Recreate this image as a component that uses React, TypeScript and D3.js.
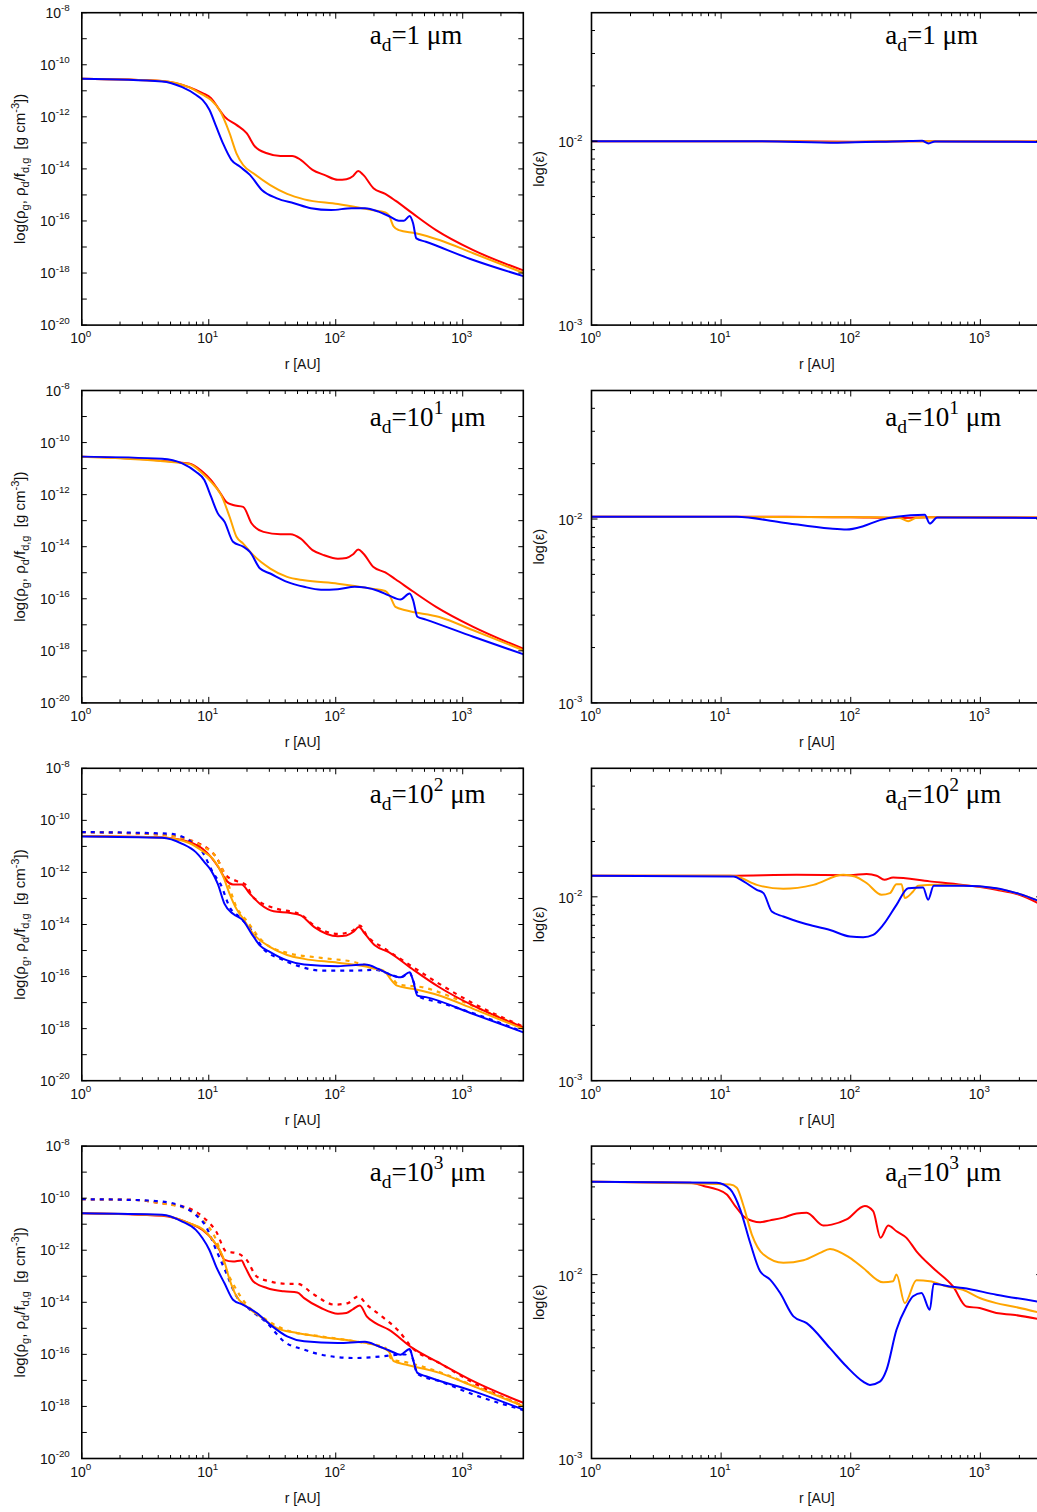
import React from "react";
import * as d3 from "d3";

type P = [number, number]; // [log10 r (AU), log10 value]

// ---------- left column: log10 density, solid = gas / dust, dotted = second model ----------
const rho1Red: P[] = [[0,-10.54],[0.632,-10.62],[0.845,-10.86],[0.951,-11.09],[1.018,-11.28],[1.084,-11.73],[1.124,-11.99],[1.218,-12.31],[1.298,-12.63],[1.364,-13.14],[1.458,-13.40],[1.564,-13.5],[1.657,-13.5],[1.724,-13.65],[1.817,-14.04],[1.910,-14.23],[2.017,-14.42],[2.084,-14.40],[2.137,-14.27],[2.177,-14.08],[2.217,-14.23],[2.297,-14.74],[2.390,-14.96],[2.470,-15.22],[2.603,-15.70],[2.790,-16.35],[3.083,-17.12],[3.477,-17.9]];
const rho1Orange: P[] = [[0,-10.54],[0.632,-10.62],[0.845,-10.87],[0.951,-11.15],[1.018,-11.35],[1.084,-11.73],[1.164,-12.63],[1.218,-13.4],[1.271,-13.85],[1.351,-14.17],[1.484,-14.62],[1.617,-14.96],[1.751,-15.17],[2.017,-15.35],[2.284,-15.58],[2.390,-15.67],[2.417,-15.77],[2.457,-16.22],[2.497,-16.35],[2.630,-16.47],[2.816,-16.73],[3.083,-17.24],[3.477,-17.99]];
const rho1Blue: P[] = [[0,-10.54],[0.632,-10.64],[0.791,-10.86],[0.898,-11.15],[0.951,-11.35],[1.005,-11.73],[1.058,-12.37],[1.111,-13.01],[1.178,-13.65],[1.244,-13.91],[1.324,-14.23],[1.418,-14.81],[1.537,-15.13],[1.671,-15.32],[1.804,-15.51],[1.964,-15.58],[2.124,-15.51],[2.230,-15.51],[2.337,-15.64],[2.417,-15.81],[2.497,-15.99],[2.537,-15.99],[2.582,-15.81],[2.609,-16.09],[2.635,-16.67],[2.710,-16.80],[3.083,-17.5],[3.477,-18.12]];

const rho2Red: P[] = [[0,-10.54],[0.845,-10.80],[0.951,-11.12],[1.018,-11.44],[1.084,-11.89],[1.138,-12.28],[1.191,-12.40],[1.271,-12.47],[1.338,-13.11],[1.431,-13.43],[1.564,-13.52],[1.644,-13.52],[1.724,-13.69],[1.817,-14.13],[1.910,-14.33],[2.017,-14.46],[2.084,-14.43],[2.137,-14.29],[2.177,-14.11],[2.217,-14.26],[2.297,-14.78],[2.390,-14.99],[2.470,-15.25],[2.603,-15.70],[2.790,-16.31],[3.083,-17.08],[3.477,-17.92]];
const rho2Orange: P[] = [[0,-10.54],[0.845,-10.82],[0.951,-11.19],[1.018,-11.51],[1.098,-12.02],[1.164,-12.85],[1.218,-13.62],[1.271,-13.88],[1.351,-14.33],[1.484,-14.84],[1.617,-15.16],[1.751,-15.29],[2.017,-15.42],[2.284,-15.61],[2.390,-15.70],[2.430,-15.93],[2.470,-16.31],[2.550,-16.44],[2.816,-16.70],[3.083,-17.21],[3.477,-17.98]];
const rho2Blue: P[] = [[0,-10.54],[0.632,-10.62],[0.791,-10.80],[0.898,-11.12],[0.965,-11.44],[1.018,-12.08],[1.071,-12.72],[1.124,-13.04],[1.191,-13.81],[1.271,-14.0],[1.324,-14.20],[1.404,-14.84],[1.484,-15.03],[1.617,-15.35],[1.751,-15.54],[1.884,-15.65],[2.017,-15.63],[2.150,-15.54],[2.230,-15.57],[2.337,-15.70],[2.417,-15.87],[2.510,-16.03],[2.582,-15.80],[2.609,-16.05],[2.643,-16.69],[2.710,-16.80],[3.083,-17.46],[3.477,-18.13]];

const rho3Red: P[] = [[0,-10.6],[0.632,-10.66],[0.845,-10.83],[0.951,-11.09],[1.018,-11.41],[1.084,-11.86],[1.138,-12.31],[1.191,-12.46],[1.258,-12.46],[1.324,-12.82],[1.404,-13.21],[1.511,-13.49],[1.644,-13.56],[1.724,-13.65],[1.831,-14.10],[2.017,-14.45],[2.084,-14.42],[2.137,-14.29],[2.182,-14.10],[2.230,-14.36],[2.310,-14.81],[2.417,-15.06],[2.603,-15.71],[2.816,-16.41],[3.083,-17.12],[3.477,-17.95]];
const rho3Orange: P[] = [[0,-10.6],[0.632,-10.66],[0.845,-10.87],[0.951,-11.18],[1.031,-11.47],[1.111,-12.12],[1.164,-12.82],[1.218,-13.40],[1.271,-13.78],[1.351,-14.36],[1.484,-14.87],[1.617,-15.17],[1.751,-15.32],[2.017,-15.47],[2.284,-15.67],[2.390,-15.83],[2.430,-16.09],[2.483,-16.35],[2.603,-16.47],[2.816,-16.73],[3.083,-17.24],[3.477,-18.01]];
const rho3Blue: P[] = [[0,-10.62],[0.632,-10.67],[0.791,-10.90],[0.898,-11.22],[0.965,-11.60],[1.018,-11.92],[1.071,-12.44],[1.124,-13.21],[1.191,-13.59],[1.271,-13.85],[1.338,-14.36],[1.404,-14.81],[1.484,-15.06],[1.617,-15.38],[1.751,-15.54],[2.017,-15.60],[2.230,-15.54],[2.337,-15.71],[2.417,-15.90],[2.510,-16.03],[2.582,-15.83],[2.609,-16.15],[2.643,-16.73],[2.710,-16.79],[3.083,-17.44],[3.477,-18.14]];
const rho3RedDot: P[] = [[0,-10.45],[0.632,-10.55],[0.951,-10.96],[1.058,-11.41],[1.138,-12.12],[1.218,-12.33],[1.298,-12.5],[1.338,-12.88],[1.404,-13.14],[1.537,-13.40],[1.671,-13.53],[1.724,-13.62],[1.831,-14.04],[2.017,-14.36],[2.124,-14.26],[2.190,-14.04],[2.244,-14.42],[2.390,-14.94],[2.550,-15.45],[2.816,-16.28],[3.083,-17.03],[3.477,-17.92]];
const rho3OrangeDot: P[] = [[0,-10.45],[0.632,-10.55],[0.951,-11.0],[1.058,-11.41],[1.138,-12.24],[1.218,-13.33],[1.298,-13.85],[1.431,-14.68],[1.617,-15.09],[1.884,-15.28],[2.150,-15.45],[2.284,-15.64],[2.417,-15.90],[2.497,-16.31],[2.683,-16.41],[2.950,-16.86],[3.216,-17.41],[3.477,-17.95]];
const rho3BlueDot: P[] = [[0,-10.45],[0.685,-10.51],[0.845,-10.77],[0.951,-11.22],[1.031,-11.99],[1.098,-12.50],[1.164,-13.33],[1.244,-13.72],[1.338,-14.23],[1.431,-14.94],[1.564,-15.32],[1.697,-15.58],[1.884,-15.77],[2.150,-15.77],[2.310,-15.74],[2.417,-15.90],[2.510,-16.03],[2.582,-15.85],[2.609,-16.15],[2.657,-16.77],[2.816,-16.99],[3.083,-17.41],[3.477,-18.12]];

const rho4Red: P[] = [[0,-10.58],[0.632,-10.68],[0.845,-10.96],[0.951,-11.22],[1.031,-11.60],[1.084,-11.99],[1.124,-12.37],[1.191,-12.43],[1.258,-12.39],[1.284,-12.62],[1.351,-13.20],[1.458,-13.45],[1.591,-13.58],[1.697,-13.62],[1.751,-13.84],[1.884,-14.22],[2.017,-14.44],[2.084,-14.41],[2.137,-14.26],[2.190,-14.12],[2.244,-14.54],[2.310,-14.79],[2.417,-15.05],[2.603,-15.75],[2.816,-16.33],[3.083,-17.03],[3.477,-17.86]];
const rho4Orange: P[] = [[0,-10.58],[0.632,-10.66],[0.845,-10.96],[0.951,-11.19],[1.031,-11.60],[1.111,-12.24],[1.164,-13.13],[1.218,-13.77],[1.298,-14.16],[1.404,-14.54],[1.537,-14.99],[1.697,-15.18],[1.884,-15.33],[2.150,-15.50],[2.337,-15.69],[2.417,-15.88],[2.457,-16.26],[2.550,-16.39],[2.816,-16.71],[3.083,-17.22],[3.477,-17.99]];
const rho4Blue: P[] = [[0,-10.58],[0.632,-10.64],[0.791,-10.90],[0.898,-11.22],[0.951,-11.54],[1.005,-11.99],[1.058,-12.63],[1.124,-13.27],[1.191,-13.90],[1.271,-14.10],[1.378,-14.41],[1.484,-14.86],[1.617,-15.31],[1.751,-15.50],[2.017,-15.56],[2.230,-15.52],[2.337,-15.69],[2.417,-15.84],[2.510,-16.01],[2.582,-15.79],[2.609,-16.20],[2.643,-16.71],[2.710,-16.84],[3.083,-17.41],[3.477,-18.12]];
const rho4RedDot: P[] = [[0,-10.04],[0.418,-10.07],[0.632,-10.20],[0.845,-10.39],[0.951,-10.71],[1.058,-11.28],[1.138,-12.05],[1.218,-12.11],[1.298,-12.37],[1.378,-13.01],[1.484,-13.20],[1.617,-13.29],[1.697,-13.29],[1.831,-13.71],[1.990,-14.09],[2.097,-14.03],[2.177,-13.77],[2.244,-14.09],[2.363,-14.54],[2.497,-15.11],[2.603,-15.75],[2.816,-16.33],[3.083,-17.09],[3.477,-17.99]];
const rho4OrangeDot: P[] = [[0,-10.04],[0.418,-10.07],[0.632,-10.20],[0.845,-10.45],[0.951,-10.84],[1.058,-11.60],[1.138,-12.75],[1.218,-13.52],[1.298,-14.09],[1.431,-14.60],[1.617,-15.08],[1.884,-15.31],[2.150,-15.50],[2.390,-15.75],[2.443,-16.20],[2.550,-16.30],[2.816,-16.68],[3.083,-17.20],[3.477,-17.96]];
const rho4BlueDot: P[] = [[0,-10.04],[0.418,-10.07],[0.632,-10.13],[0.791,-10.32],[0.898,-10.64],[0.978,-11.09],[1.058,-11.99],[1.138,-12.88],[1.218,-13.77],[1.324,-14.28],[1.458,-14.79],[1.591,-15.50],[1.751,-15.82],[1.884,-16.01],[2.150,-16.14],[2.417,-16.05],[2.497,-16.01],[2.550,-16.0],[2.582,-15.82],[2.609,-16.2],[2.643,-16.75],[2.816,-17.03],[3.083,-17.54],[3.477,-18.14]];

// ---------- right column: log10 epsilon ----------
const eps1Red: P[] = [[0,-2.0],[1.5,-2.0],[2.0,-2.003],[2.5,-2.0],[3.477,-2.002]];
const eps1Orange: P[] = [[0,-2.0],[1.5,-2.0],[1.9,-2.006],[2.3,-2.0],[3.477,-2.002]];
const eps1Blue: P[] = [[0,-2.0],[1.3,-2.0],[1.9,-2.008],[2.4,-2.0],[2.55,-1.998],[2.6,-2.012],[2.65,-2.001],[3.477,-2.004]];

const eps2Red: P[] = [[0,-1.988],[1.5,-1.988],[2.0,-1.991],[2.4,-1.994],[2.6,-1.99],[3.477,-1.992]];
const eps2Orange: P[] = [[0,-1.988],[2.2,-1.99],[2.38,-1.995],[2.443,-2.012],[2.5,-1.995],[2.6,-1.99],[3.477,-1.992]];
const eps2Blue: P[] = [[0,-1.988],[1.12,-1.988],[1.455,-2.017],[1.84,-2.052],[1.968,-2.057],[2.096,-2.039],[2.225,-2.006],[2.353,-1.988],[2.571,-1.977],[2.61,-2.025],[2.666,-1.992],[3.477,-1.994]];

const eps3Red: P[] = [[0,-1.885],[1.07,-1.885],[1.583,-1.88],[1.994,-1.882],[2.122,-1.876],[2.2,-1.885],[2.26,-1.907],[2.327,-1.895],[2.61,-1.916],[2.866,-1.935],[3.123,-1.962],[3.30,-1.989],[3.477,-2.045]];
const eps3Orange: P[] = [[0,-1.885],[1.07,-1.885],[1.121,-1.889],[1.275,-1.935],[1.48,-1.956],[1.712,-1.935],[1.943,-1.88],[2.032,-1.889],[2.122,-1.925],[2.238,-1.989],[2.302,-1.98],[2.353,-1.931],[2.392,-1.931],[2.417,-2.007],[2.481,-1.971],[2.52,-1.94],[2.661,-1.935],[2.866,-1.938],[3.123,-1.955],[3.30,-1.985],[3.477,-2.03]];
const eps3Blue: P[] = [[0,-1.885],[1.096,-1.889],[1.173,-1.916],[1.275,-1.962],[1.327,-1.98],[1.391,-2.08],[1.48,-2.107],[1.635,-2.144],[1.84,-2.18],[1.994,-2.216],[2.096,-2.22],[2.173,-2.207],[2.25,-2.153],[2.353,-2.044],[2.443,-1.953],[2.558,-1.949],[2.597,-2.016],[2.64,-1.94],[2.866,-1.94],[3.123,-1.953],[3.30,-1.984],[3.477,-2.03]];

const eps4Red: P[] = [[0,-1.495],[0.762,-1.50],[0.865,-1.518],[0.967,-1.536],[1.044,-1.564],[1.109,-1.627],[1.186,-1.69],[1.301,-1.715],[1.378,-1.705],[1.48,-1.69],[1.583,-1.667],[1.66,-1.664],[1.789,-1.733],[1.853,-1.728],[1.968,-1.70],[2.109,-1.627],[2.173,-1.655],[2.23,-1.80],[2.289,-1.733],[2.353,-1.764],[2.43,-1.80],[2.507,-1.873],[2.635,-1.964],[2.789,-2.064],[2.892,-2.173],[2.995,-2.182],[3.123,-2.209],[3.251,-2.218],[3.477,-2.245]];
const eps4Orange: P[] = [[0,-1.495],[1.07,-1.51],[1.121,-1.527],[1.173,-1.627],[1.237,-1.782],[1.327,-1.891],[1.48,-1.936],[1.635,-1.922],[1.763,-1.882],[1.84,-1.86],[1.994,-1.909],[2.096,-1.964],[2.25,-2.042],[2.327,-2.036],[2.353,-2.0],[2.417,-2.155],[2.507,-2.031],[2.61,-2.036],[2.738,-2.064],[2.866,-2.082],[2.995,-2.127],[3.123,-2.155],[3.251,-2.173],[3.477,-2.21]];
const eps4Blue: P[] = [[0,-1.495],[0.967,-1.50],[1.07,-1.536],[1.147,-1.645],[1.224,-1.827],[1.301,-1.982],[1.378,-2.027],[1.455,-2.1],[1.558,-2.227],[1.66,-2.264],[1.84,-2.4],[1.968,-2.5],[2.096,-2.582],[2.148,-2.6],[2.225,-2.582],[2.276,-2.518],[2.353,-2.3],[2.43,-2.173],[2.481,-2.118],[2.546,-2.1],[2.61,-2.191],[2.64,-2.049],[2.764,-2.064],[2.866,-2.073],[3.123,-2.109],[3.477,-2.15]];

// ---------- labels / axis values ----------
const grainExponents = ["", "1", "2", "3"]; // a_d = 1, 10^1, 10^2, 10^3 μm
const xDomain = [1, 3000];
const xMajor = [1, 10, 100, 1000];
const rhoDomain = [1e-20, 1e-8];
const rhoTickExps = [-20, -19, -18, -17, -16, -15, -14, -13, -12, -11, -10, -9, -8];
const rhoLabelExps = [-20, -18, -16, -14, -12, -10, -8];
const epsDomain = [1e-3, 0.05];
const epsMajorExps = [-3, -2];
const seriesColors = ["#ff0000", "#ffa500", "#0000ff"];

const rows = [
  { rho: [rho1Red, rho1Orange, rho1Blue], dots: null as P[][] | null, eps: [eps1Red, eps1Orange, eps1Blue] },
  { rho: [rho2Red, rho2Orange, rho2Blue], dots: null as P[][] | null, eps: [eps2Red, eps2Orange, eps2Blue] },
  { rho: [rho3Red, rho3Orange, rho3Blue], dots: [rho3RedDot, rho3OrangeDot, rho3BlueDot], eps: [eps3Red, eps3Orange, eps3Blue] },
  { rho: [rho4Red, rho4Orange, rho4Blue], dots: [rho4RedDot, rho4OrangeDot, rho4BlueDot], eps: [eps4Red, eps4Orange, eps4Blue] },
];

// ---------- layout ----------
const W = 1037, H = 1512;
const ROW0 = 12.7, ROW_STEP = 377.8, PH = 312.4;
const LX0 = 81.8, LX1 = 523.3;
const RX0 = 591.5, RX1 = 1042.2;
const SANS = "'Liberation Sans', Arial, Helvetica, sans-serif";
const SERIF = "'Liberation Serif', 'Times New Roman', Times, serif";

function xMinors(): number[] {
  const out: number[] = [];
  for (let k = 0; k < 4; k++) for (let m = 2; m <= 9; m++) {
    const v = m * Math.pow(10, k);
    if (v < xDomain[1]) out.push(v);
  }
  return out;
}

function Pow10Label({ x, y, exp, anchor }: { x: number; y: number; exp: string; anchor: string }) {
  return (
    <text x={x} y={y} textAnchor={anchor as any} fontFamily={SANS} fontSize={14} fill="#111">
      <tspan>10</tspan>
      <tspan fontSize={9.8} dy={-6.5}>{exp}</tspan>
    </text>
  );
}

function Panel({ idx, side, row, exp }: { idx: number; side: "L" | "R"; row: typeof rows[number]; exp: string }) {
  const top = ROW0 + idx * ROW_STEP;
  const bottom = top + PH;
  const x0 = side === "L" ? LX0 : RX0;
  const x1 = side === "L" ? LX1 : RX1;
  const x = d3.scaleLog().domain(xDomain).range([x0, x1]);
  const y = d3.scaleLog().domain(side === "L" ? rhoDomain : epsDomain).range([bottom, top]);
  const line = d3.line<P>()
    .x((d) => x(Math.pow(10, d[0])))
    .y((d) => y(Math.pow(10, d[1])))
    .curve(d3.curveMonotoneX);
  const clipId = `clip-${side}-${idx}`;
  const solid = side === "L" ? row.rho : row.eps;
  const dots = side === "L" ? row.dots : null;

  const ticks: JSX.Element[] = [];
  const maj = 6, min = 3.5;
  xMajor.forEach((v, i) => {
    const px = x(v);
    ticks.push(<line key={`xb${i}`} x1={px} x2={px} y1={bottom} y2={bottom - maj} />);
    ticks.push(<line key={`xt${i}`} x1={px} x2={px} y1={top} y2={top + maj} />);
  });
  xMinors().forEach((v, i) => {
    const px = x(v);
    ticks.push(<line key={`xmb${i}`} x1={px} x2={px} y1={bottom} y2={bottom - min} />);
    ticks.push(<line key={`xmt${i}`} x1={px} x2={px} y1={top} y2={top + min} />);
  });
  if (side === "L") {
    rhoTickExps.forEach((e, i) => {
      const py = y(Math.pow(10, e));
      const len = 5;
      ticks.push(<line key={`yl${i}`} x1={x0} x2={x0 + len} y1={py} y2={py} />);
      ticks.push(<line key={`yr${i}`} x1={x1} x2={x1 - len} y1={py} y2={py} />);
    });
  } else {
    const vals: [number, number][] = [];
    epsMajorExps.forEach((e) => vals.push([Math.pow(10, e), maj]));
    for (let m = 2; m <= 9; m++) vals.push([m * 1e-3, min]);
    for (let m = 2; m <= 4; m++) vals.push([m * 1e-2, min]);
    vals.forEach(([v, len], i) => {
      const py = y(v);
      ticks.push(<line key={`yl${i}`} x1={x0} x2={x0 + len} y1={py} y2={py} />);
      ticks.push(<line key={`yr${i}`} x1={x1} x2={x1 - len} y1={py} y2={py} />);
    });
  }

  const annX = x0 + 0.652 * (x1 - x0);
  const annY = top + (exp ? 35 : 31);

  return (
    <g>
      <defs>
        <clipPath id={clipId}>
          <rect x={x0} y={top} width={x1 - x0} height={bottom - top} />
        </clipPath>
      </defs>
      <g clipPath={`url(#${clipId})`} fill="none">
        {dots && dots.map((s, i) => (
          <path key={`d${i}`} d={line(s) || ""} stroke={seriesColors[i]} strokeWidth={2.2} strokeDasharray="4,5" />
        ))}
        {solid.map((s, i) => (
          <path key={`s${i}`} d={line(s) || ""} stroke={seriesColors[i]} strokeWidth={2} strokeLinejoin="round" />
        ))}
      </g>
      <g stroke="#000" strokeWidth={1}>{ticks}</g>
      <rect x={x0} y={top} width={x1 - x0} height={bottom - top} fill="none" stroke="#000" strokeWidth={1.6} />
      {xMajor.map((v, i) => (
        <Pow10Label key={`xl${i}`} x={x(v) - 1} y={bottom + 18} exp={String(Math.round(Math.log10(v)))} anchor="middle" />
      ))}
      <text x={(x0 + Math.min(x1, x0 + 451)) / 2} y={bottom + 44} textAnchor="middle" fontFamily={SANS} fontSize={14} fill="#111">r [AU]</text>
      {side === "L"
        ? rhoLabelExps.map((e, i) => (
            <Pow10Label key={`yl${i}`} x={x0 - 12} y={y(Math.pow(10, e)) + 5} exp={String(e)} anchor="end" />
          ))
        : epsMajorExps.map((e, i) => (
            <Pow10Label key={`yl${i}`} x={x0 - 9} y={y(Math.pow(10, e)) + 6} exp={String(e)} anchor="end" />
          ))}
      {side === "L" ? (
        <text transform={`translate(25,${(top + bottom) / 2}) rotate(-90)`} textAnchor="middle" fontFamily={SANS} fontSize={15} fill="#111">
          <tspan>log(ρ</tspan>
          <tspan fontSize={11} dy={4}>g</tspan>
          <tspan dy={-4}>, ρ</tspan>
          <tspan fontSize={11} dy={4}>d</tspan>
          <tspan dy={-4}>/f</tspan>
          <tspan fontSize={11} dy={4}>d,g</tspan>
          <tspan dy={-4}>{"\u00a0\u00a0[g cm"}</tspan>
          <tspan fontSize={11} dy={-6}>-3</tspan>
          <tspan dy={6}>])</tspan>
        </text>
      ) : (
        <text transform={`translate(544,${(top + bottom) / 2}) rotate(-90)`} textAnchor="middle" fontFamily={SANS} fontSize={14.5} fill="#111">
          log(ε)
        </text>
      )}
      <text x={annX} y={annY} fontFamily={SERIF} fontSize={27} fill="#000">
        <tspan>a</tspan>
        <tspan fontSize={19.5} dy={7}>d</tspan>
        {exp ? (
          <>
            <tspan dy={-7}>=10</tspan>
            <tspan fontSize={19.5} dy={-12}>{exp}</tspan>
            <tspan dy={12}>{"\u00a0μm"}</tspan>
          </>
        ) : (
          <tspan dy={-7}>{"=1\u00a0μm"}</tspan>
        )}
      </text>
    </g>
  );
}

export default function App() {
  return (
    <svg width={W} height={H} viewBox={`0 0 ${W} ${H}`} style={{ position: "absolute", left: 0, top: 0, display: "block", background: "#fff" }}>
      <rect x={0} y={0} width={W} height={H} fill="#fff" />
      {rows.map((row, i) => (
        <g key={i}>
          <Panel idx={i} side="L" row={row} exp={grainExponents[i]} />
          <Panel idx={i} side="R" row={row} exp={grainExponents[i]} />
        </g>
      ))}
    </svg>
  );
}
